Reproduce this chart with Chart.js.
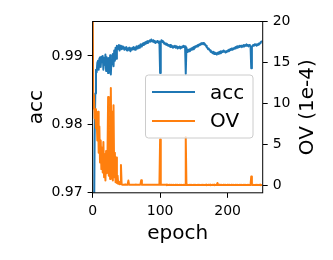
<!DOCTYPE html>
<html>
<head>
<meta charset="utf-8">
<script src="https://cdn.jsdelivr.net/npm/chart.js@4.4.0/dist/chart.umd.min.js"></script>
<style>
  html, body { margin: 0; padding: 0; background: #fff; }
  #wrap { width: 333px; height: 260px; }
</style>
</head>
<body>
<div id="wrap"><canvas id="chart" width="333" height="260"></canvas></div>
<script>
// values, one per epoch
const acc = [
  0.935, 0.950, 0.963, 0.978, 0.9845, 0.9880, 0.9876, 0.9890, 0.9893, 0.9880,
  0.9896, 0.9898, 0.9884, 0.9899, 0.9893, 0.9900, 0.9880, 0.9897, 0.9887, 0.9902,
  0.9878, 0.9898, 0.9893, 0.9875, 0.9897, 0.9878, 0.9901, 0.9873, 0.9895, 0.9888,
  0.9903, 0.9885, 0.9908, 0.9893, 0.9912, 0.9896, 0.9915, 0.9910, 0.9914, 0.9916,
  0.9908, 0.9915, 0.9912, 0.9910, 0.9914, 0.9911, 0.9913, 0.9909, 0.9912, 0.9910,
  0.9913, 0.9908, 0.9911, 0.9909, 0.9912, 0.9910, 0.9907, 0.9911, 0.9909, 0.9912,
  0.9910, 0.9913, 0.9911, 0.9909, 0.9912, 0.9914, 0.9911, 0.9913, 0.9915, 0.9912,
  0.9915, 0.9917, 0.9914, 0.9916, 0.9918, 0.9916, 0.9919, 0.9917, 0.9920, 0.9918,
  0.9921, 0.9919, 0.9922, 0.9920, 0.9922, 0.9923, 0.9921, 0.9924, 0.9922, 0.9921,
  0.9923, 0.9920, 0.9922, 0.9919, 0.9921, 0.9920, 0.9922, 0.9921, 0.9919, 0.9921,
  0.9875, 0.9920, 0.9923, 0.9922, 0.9920, 0.9921, 0.9918, 0.9919, 0.9917, 0.9918,
  0.9916, 0.9917, 0.9915, 0.9916, 0.9914, 0.9916, 0.9913, 0.9915, 0.9914, 0.9912,
  0.9914, 0.9913, 0.9915, 0.9912, 0.9914, 0.9913, 0.9911, 0.9913, 0.9912, 0.9914,
  0.9911, 0.9913, 0.9912, 0.9914, 0.9913, 0.9915, 0.9913, 0.9914, 0.9874, 0.9912,
  0.9908, 0.9906, 0.9909, 0.9907, 0.9910, 0.9908, 0.9911, 0.9909, 0.9912, 0.9910,
  0.9913, 0.9911, 0.9914, 0.9913, 0.9915, 0.9914, 0.9916, 0.9915, 0.9917, 0.9916,
  0.9918, 0.9917, 0.9919, 0.9918, 0.9919, 0.9917, 0.9918, 0.9916, 0.9915, 0.9913,
  0.9912, 0.9910, 0.9911, 0.9909, 0.9908, 0.9906, 0.9907, 0.9905, 0.9904, 0.9906,
  0.9903, 0.9905, 0.9903, 0.9904, 0.9902, 0.9904, 0.9905, 0.9903, 0.9906, 0.9904,
  0.9907, 0.9905, 0.9907, 0.9906, 0.9908, 0.9906, 0.9907, 0.9905, 0.9907, 0.9906,
  0.9908, 0.9907, 0.9909, 0.9908, 0.9910, 0.9909, 0.9911, 0.9909, 0.9911, 0.9910,
  0.9912, 0.9911, 0.9913, 0.9912, 0.9914, 0.9912, 0.9914, 0.9913, 0.9915, 0.9914,
  0.9915, 0.9913, 0.9915, 0.9914, 0.9916, 0.9914, 0.9916, 0.9915, 0.9917, 0.9915,
  0.9916, 0.9914, 0.9916, 0.9915, 0.9914, 0.9882, 0.9913, 0.9915, 0.9916, 0.9915,
  0.9917, 0.9916, 0.9917, 0.9915, 0.9917, 0.9916, 0.9918, 0.9917, 0.9919, 0.9920,
  0.9921, 0.9922
];

const ov = [
  24, 9.4, 11.0, 8.2, 9.3, 7.0, 8.3, 5.5, 9.0, 4.0,
  7.2, 2.8, 5.5, 2.0, 4.6, 1.6, 5.3, 1.0, 3.8, 0.6,
  4.2, 1.5, 3.0, 10.8, 1.2, 6.5, 0.8, 11.9, 2.0, 9.0,
  0.6, 9.8, 1.0, 4.0, 0.4, 3.4, 0.3, 1.2, 0.2, 0.5,
  0.15, 0.2, 2.5, 0.15, 0.1, 0.1, 0.08, 0.1, 0.12, 0.1,
  0.1, 0.08, 0.2, 0.6, 0.1, 0.08, 0.1, 0.1, 0.08, 0.1,
  0.1, 0.08, 0.1, 0.1, 0.12, 0.1, 0.08, 0.1, 0.1, 0.08,
  0.1, 0.15, 0.65, 0.1, 0.08, 0.1, 0.1, 0.08, 0.1, 0.1,
  0.08, 0.1, 0.1, 0.08, 0.1, 0.1, 0.08, 0.1, 0.1, 0.08,
  0.1, 0.1, 0.08, 0.1, 0.1, 0.08, 0.1, 0.1, 0.08, 0.1,
  5.6, 0.1, 0.08, 0.1, 0.1, 0.08, 0.1, 0.1, 0.08, 0.1,
  0.05, 0.1, 0.05, 0.05, 0.1, 0.05, 0.05, 0.08, 0.05, 0.05,
  0.08, 0.05, 0.05, 0.1, 0.05, 0.05, 0.08, 0.05, 0.05, 0.1,
  0.05, 0.05, 0.08, 0.05, 0.05, 0.1, 0.05, 0.05, 5.9, 0.1,
  0.05, 0.08, 0.05, 0.05, 0.1, 0.05, 0.05, 0.08, 0.05, 0.05,
  0.1, 0.05, 0.05, 0.08, 0.05, 0.05, 0.1, 0.05, 0.05, 0.08,
  0.05, 0.05, 0.1, 0.05, 0.05, 0.08, 0.05, 0.05, 0.1, 0.05,
  0.05, 0.08, 0.05, 0.05, 0.1, 0.05, 0.05, 0.08, 0.05, 0.05,
  0.1, 0.05, 0.05, 0.08, 0.05, 0.3, 0.05, 0.05, 0.1, 0.05,
  0.05, 0.08, 0.05, 0.05, 0.1, 0.05, 0.05, 0.08, 0.05, 0.05,
  0.1, 0.05, 0.05, 0.08, 0.05, 0.05, 0.1, 0.05, 0.05, 0.08,
  0.05, 0.05, 0.1, 0.05, 0.05, 0.08, 0.05, 0.05, 0.1, 0.05,
  0.05, 0.08, 0.05, 0.05, 0.1, 0.05, 0.05, 0.08, 0.05, 0.05,
  0.1, 0.05, 0.05, 0.08, 0.05, 1.1, 0.1, 0.05, 0.05, 0.08,
  0.05, 0.05, 0.1, 0.05, 0.05, 0.08, 0.05, 0.05, 0.1, 0.05,
  0.05, 0.08
];

const epochTicks = [0, 100, 200];
const accTicks = [0.97, 0.98, 0.99];
const ovTicks = [0, 5, 10, 15, 20];

const xTitle = 'epoch';
const accTitle = 'acc';
const ovTitle = 'OV (1e-4)';

const blue = '#1f77b4';
const orange = '#ff7f0e';
const font = '"DejaVu Sans", sans-serif';
const tickFont = { family: font, size: 14 };

const epochs = acc.map((_, i) => i);

// frame, legend inside the plot, and axis titles (right title reads bottom-up like matplotlib)
const decorPlugin = {
  id: 'decor',
  afterDatasetsDraw(chart) {
    const { ctx, chartArea: a } = chart;
    ctx.save();
    ctx.strokeStyle = '#000';
    ctx.lineWidth = 1;
    ctx.strokeRect(a.left, a.top, a.right - a.left, a.bottom - a.top);

    // legend box
    ctx.beginPath();
    ctx.roundRect(145.5, 75, 107.5, 63, 3);
    ctx.fillStyle = 'rgba(255,255,255,0.8)';
    ctx.fill();
    ctx.strokeStyle = '#cccccc';
    ctx.stroke();

    const items = chart.data.datasets.map(d => ({ label: d.label, color: d.borderColor }));
    const rows = [{ y: 92, base: 98.5 }, { y: 121, base: 127 }];
    ctx.lineWidth = 2;
    ctx.font = '20px ' + font;
    ctx.textBaseline = 'alphabetic';
    ctx.textAlign = 'left';
    items.forEach((it, i) => {
      ctx.strokeStyle = it.color;
      ctx.beginPath();
      ctx.moveTo(152, rows[i].y);
      ctx.lineTo(195, rows[i].y);
      ctx.stroke();
      ctx.fillStyle = '#000';
      ctx.fillText(it.label, 210, rows[i].base);
    });
    ctx.restore();
  },
  afterDraw(chart) {
    const { ctx, chartArea: a } = chart;
    ctx.save();
    ctx.fillStyle = '#000';
    ctx.font = '20px ' + font;
    ctx.textAlign = 'center';
    ctx.textBaseline = 'alphabetic';
    ctx.fillText(xTitle, (a.left + a.right) / 2, 239);

    ctx.translate(41.5, (a.top + a.bottom) / 2);
    ctx.rotate(-Math.PI / 2);
    ctx.fillText(accTitle, 0, 0);
    ctx.restore();

    ctx.save();
    ctx.fillStyle = '#000';
    ctx.font = '20px ' + font;
    ctx.textAlign = 'center';
    ctx.textBaseline = 'alphabetic';
    ctx.translate(312.5, (a.top + a.bottom) / 2);
    ctx.rotate(-Math.PI / 2);
    ctx.fillText(ovTitle, 0, 0);
    ctx.restore();
  }
};

const axisGrid = { drawOnChartArea: false, tickLength: 5, color: '#000', lineWidth: 1 };

new Chart(document.getElementById('chart'), {
  type: 'line',
  data: {
    datasets: [
      {
        label: accTitle,
        data: epochs.map(i => ({ x: i, y: acc[i] })),
        yAxisID: 'yAcc',
        borderColor: blue,
        borderWidth: 2,
        pointRadius: 0,
        borderJoinStyle: 'round',
        fill: false,
        tension: 0,
        clip: 0,
        order: 1
      },
      {
        label: 'OV',
        data: epochs.map(i => ({ x: i, y: ov[i] })),
        yAxisID: 'yOv',
        borderColor: orange,
        borderWidth: 2,
        pointRadius: 0,
        borderJoinStyle: 'round',
        fill: false,
        tension: 0,
        clip: 0,
        order: 0
      }
    ]
  },
  options: {
    responsive: false,
    animation: false,
    devicePixelRatio: 1,
    layout: { padding: { top: 21.5, left: 0, right: 0, bottom: 0 } },
    plugins: { legend: { display: false }, tooltip: { enabled: false } },
    scales: {
      x: {
        type: 'linear',
        min: 0,
        max: 252,
        afterBuildTicks: s => { s.ticks = epochTicks.map(v => ({ value: v })); },
        afterFit: s => { s.height = 67.2; },
        grid: axisGrid,
        border: { display: false },
        ticks: { color: '#000', font: tickFont, padding: 5, maxRotation: 0, callback: v => String(v) }
      },
      yAcc: {
        type: 'linear',
        position: 'left',
        min: 0.97,
        max: 0.99504,
        afterBuildTicks: s => { s.ticks = accTicks.map(v => ({ value: v })); },
        afterFit: s => { s.width = 92.6; },
        grid: axisGrid,
        border: { display: false },
        ticks: { color: '#000', font: tickFont, padding: 5, callback: v => v.toFixed(2) }
      },
      yOv: {
        type: 'linear',
        position: 'right',
        min: -0.89,
        max: 20,
        afterBuildTicks: s => { s.ticks = ovTicks.map(v => ({ value: v })); },
        afterFit: s => { s.width = 70.3; },
        grid: axisGrid,
        border: { display: false },
        ticks: { color: '#000', font: tickFont, padding: 5, callback: v => String(v) }
      }
    }
  },
  plugins: [decorPlugin]
});
</script>
</body>
</html>
